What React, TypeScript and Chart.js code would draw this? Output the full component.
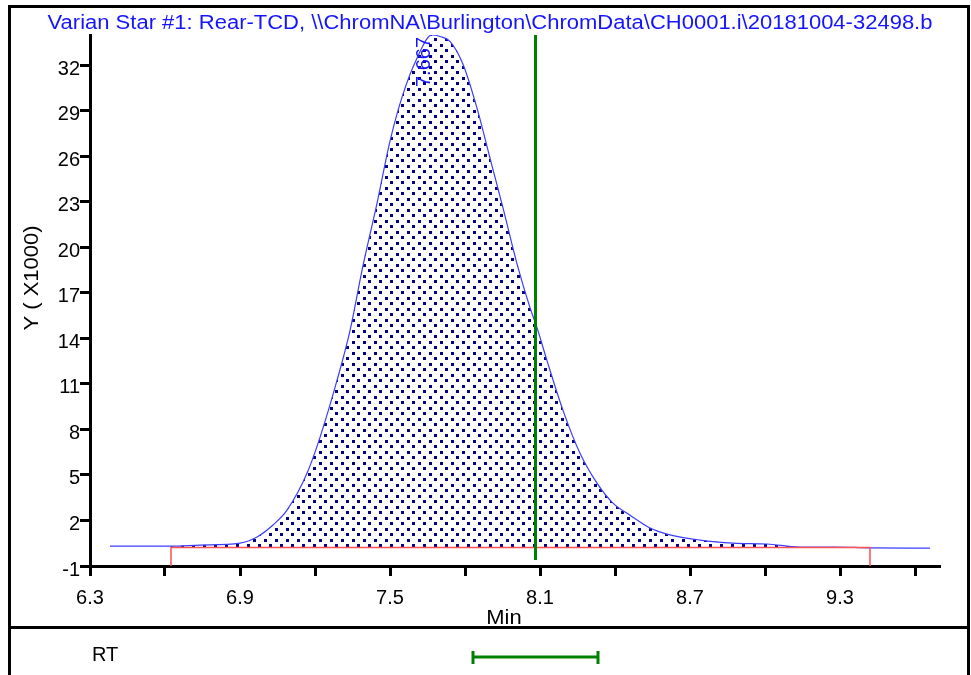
import React, { useEffect, useRef } from 'react';
import { Chart, registerables } from 'chart.js';

Chart.register(...registerables);

// ---- text ----
const titleText = 'Varian Star #1: Rear-TCD, \\\\ChromNA\\Burlington\\ChromData\\CH0001.i\\20181004-32498.b';
const yAxisTitle = 'Y ( X1000)';
const xAxisTitle = 'Min';
const rtRowLabel = 'RT';

// ---- axes ----
const xMin = 6.3;
const xMax = 9.7;
const yMin = -1;
const yMax = 34;
const xTickValues = [6.3, 6.6, 6.9, 7.2, 7.5, 7.8, 8.1, 8.4, 8.7, 9.0, 9.3, 9.6];
const xTickLabels = ['6.3', '', '6.9', '', '7.5', '', '8.1', '', '8.7', '', '9.3', ''];
const yTickValues = [-1, 2, 5, 8, 11, 14, 17, 20, 23, 26, 29, 32];
const yTickLabels = ['-1', '2', '5', '8', '11', '14', '17', '20', '23', '26', '29', '32'];

// ---- signal (min, Y x1000) ----
const signalTime = [
  6.38, 6.624, 6.74, 6.9, 6.968, 7.032, 7.088, 7.168, 7.22, 7.288, 7.34, 7.392, 7.448, 7.5,
  7.552, 7.608, 7.667, 7.7, 7.74, 7.792, 7.848, 7.9, 7.952, 8.008, 8.06, 8.088, 8.128, 8.192,
  8.26, 8.328, 8.392, 8.46, 8.54, 8.608, 8.74, 8.872, 9.008, 9.14, 9.272, 9.42, 9.66,
];
const signalValue = [
  0.31, 0.31, 0.38, 0.51, 0.91, 1.7, 2.68, 5.11, 7.48, 11.23, 14.52, 18.8, 22.9, 27.01,
  30.1, 32.47, 34.0, 33.9, 33.58, 32.07, 29.18, 25.89, 22.6, 18.92, 16.03, 14.71, 12.54, 9.26,
  6.43, 4.46, 3.14, 2.35, 1.5, 1.1, 0.71, 0.51, 0.45, 0.25, 0.25, 0.2, 0.18,
];

// ---- integration / markers ----
const integrationStart = 6.624;
const integrationEnd = 9.42;
const baselineLevel = 0.22;
const peakRT = 7.667;
const peakLabel = '7.667';
const markerRT = 8.082;
const markerBottom = -0.6;
const rtWindow = [7.832, 8.332];

const FONT = '"Liberation Sans", Arial, sans-serif';

export default function App() {
  const ref = useRef<HTMLCanvasElement>(null);

  useEffect(() => {
    const canvas = ref.current!;
    const ctx = canvas.getContext('2d')!;

    const tile = document.createElement('canvas');
    tile.width = 11;
    tile.height = 11;
    const tctx = tile.getContext('2d')!;
    tctx.fillStyle = '#000080';
    tctx.fillRect(0, 0, 3, 3);
    tctx.fillRect(5, 5, 3, 3);
    const pattern = ctx.createPattern(tile, 'repeat')!;

    const signal = signalTime.map((t, i) => ({ x: t, y: signalValue[i] }));
    const fillPts = signal.filter((p) => p.x >= integrationStart && p.x <= integrationEnd);
    const baseline = [
      { x: integrationStart, y: yMin },
      { x: integrationStart, y: baselineLevel },
      { x: integrationEnd, y: baselineLevel },
      { x: integrationEnd, y: yMin },
    ];
    const marker = [
      { x: markerRT, y: markerBottom },
      { x: markerRT, y: yMax },
    ];

    const annotate = {
      id: 'annotate',
      afterDraw(chart: any) {
        const c = chart.ctx as CanvasRenderingContext2D;
        const xs = chart.scales.x;
        const area = chart.chartArea;
        c.save();
        // title (slightly wide face)
        c.save();
        c.translate(490, 29);
        c.scale(1.1, 1);
        c.font = `20px ${FONT}`;
        c.fillStyle = '#1414ff';
        c.textAlign = 'center';
        c.textBaseline = 'alphabetic';
        c.fillText(titleText, 0, 0);
        c.restore();
        // peak label
        c.save();
        c.translate(xs.getPixelForValue(peakRT) - 2, area.top + 2);
        c.rotate(-Math.PI / 2);
        c.font = `20px ${FONT}`;
        c.fillStyle = '#1414ff';
        c.textAlign = 'right';
        c.fillText(peakLabel, 0, 0);
        c.restore();
        // y title
        c.save();
        c.translate(38, 278);
        c.rotate(-Math.PI / 2);
        c.scale(1.1, 1);
        c.font = `20px ${FONT}`;
        c.fillStyle = '#000';
        c.textAlign = 'center';
        c.fillText(yAxisTitle, 0, 0);
        c.restore();
        // x title
        c.save();
        c.translate(504, 624);
        c.scale(1.1, 1);
        c.font = `20px ${FONT}`;
        c.fillStyle = '#000';
        c.textAlign = 'center';
        c.fillText(xAxisTitle, 0, 0);
        c.restore();
        // RT row
        c.fillStyle = '#000';
        c.textAlign = 'left';
        c.font = `20px ${FONT}`;
        c.fillText(rtRowLabel, 92, 661);
        const x1 = xs.getPixelForValue(rtWindow[0]);
        const x2 = xs.getPixelForValue(rtWindow[1]);
        c.strokeStyle = '#008000';
        c.lineWidth = 3;
        c.beginPath();
        c.moveTo(x1, 657);
        c.lineTo(x2, 657);
        c.moveTo(x1, 651);
        c.lineTo(x1, 664);
        c.moveTo(x2, 651);
        c.lineTo(x2, 664);
        c.stroke();
        c.restore();
      },
    };

    const tickFont = { family: FONT, size: 20 };

    const chart = new Chart(canvas, {
      type: 'scatter',
      data: {
        datasets: [
          {
            data: marker,
            showLine: true,
            borderColor: '#008000',
            borderWidth: 3,
            pointRadius: 0,
            order: 0,
          },
          {
            data: baseline,
            showLine: true,
            borderColor: '#ff5050',
            borderWidth: 1.5,
            pointRadius: 0,
            order: 1,
          },
          {
            data: signal,
            showLine: true,
            borderColor: '#3c3cff',
            borderWidth: 1.2,
            pointRadius: 0,
            cubicInterpolationMode: 'monotone',
            order: 2,
          },
          {
            data: fillPts,
            showLine: true,
            borderWidth: 0,
            borderColor: 'rgba(0,0,0,0)',
            backgroundColor: pattern as any,
            fill: { value: baselineLevel },
            pointRadius: 0,
            cubicInterpolationMode: 'monotone',
            order: 3,
          },
        ] as any,
      },
      options: {
        animation: false,
        responsive: false,
        maintainAspectRatio: false,
        devicePixelRatio: 1,
        layout: { padding: { left: 0, top: 35, right: 31, bottom: 0 } },
        plugins: { legend: { display: false }, tooltip: { enabled: false }, title: { display: false } },
        scales: {
          x: {
            type: 'linear',
            min: xMin,
            max: xMax,
            afterBuildTicks: (s: any) => {
              s.ticks = xTickValues.map((v) => ({ value: v }));
            },
            afterFit: (s: any) => {
              s.height = 109;
            },
            ticks: {
              autoSkip: false,
              maxRotation: 0,
              color: '#000',
              font: tickFont,
              padding: 10,
              callback: (_v: any, i: number) => xTickLabels[i],
            },
            grid: { drawOnChartArea: false, drawTicks: true, tickLength: 10, tickWidth: 3, tickColor: '#000' },
            border: { display: true, width: 3, color: '#000' },
          },
          y: {
            type: 'linear',
            min: yMin,
            max: yMax,
            afterBuildTicks: (s: any) => {
              s.ticks = yTickValues.map((v) => ({ value: v }));
            },
            afterFit: (s: any) => {
              s.width = 90;
            },
            ticks: {
              autoSkip: false,
              color: '#000',
              font: tickFont,
              padding: 0,
              labelOffset: 4,
              callback: (_v: any, i: number) => yTickLabels[i],
            },
            grid: { drawOnChartArea: false, drawTicks: true, tickLength: 10, tickWidth: 3, tickColor: '#000' },
            border: { display: true, width: 3, color: '#000' },
          },
        },
      } as any,
      plugins: [annotate],
    });

    return () => chart.destroy();
  }, []);

  return (
    <div style={{ position: 'absolute', left: 0, top: 0, width: 971, height: 675, overflow: 'hidden', background: '#fff' }}>
      <div style={{ position: 'absolute', left: 8, top: 5, width: 962, height: 720, border: '3px solid #000', boxSizing: 'border-box' }} />
      <div style={{ position: 'absolute', left: 8, top: 626, width: 962, height: 3, background: '#000' }} />
      <canvas ref={ref} width={971} height={675} style={{ position: 'absolute', left: 0, top: 0, width: 971, height: 675 }} />
    </div>
  );
}
